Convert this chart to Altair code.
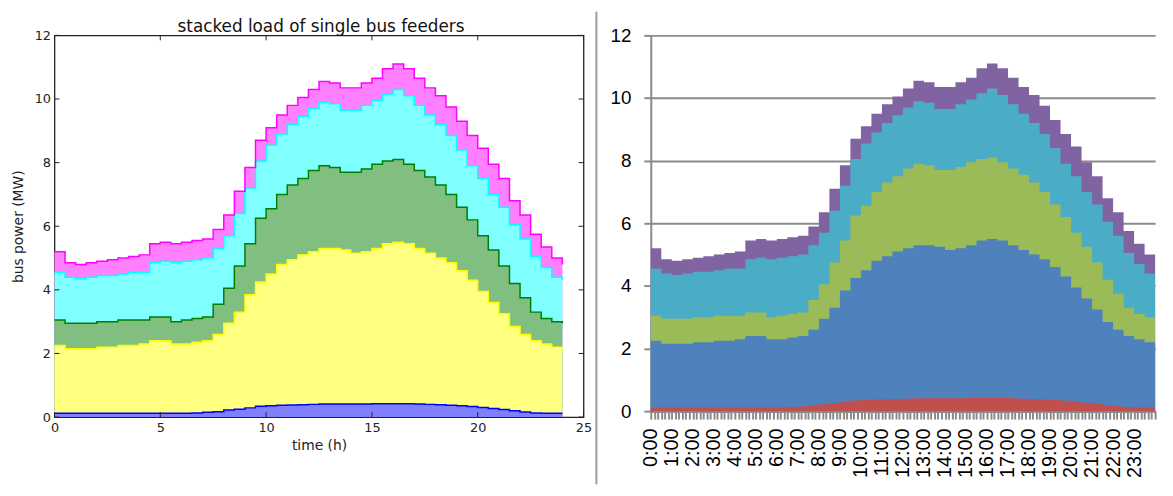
import altair as alt
import pandas as pd

# time stamps (hours), half-hour resolution
hours = [0.0, 0.5, 1.0, 1.5, 2.0, 2.5, 3.0, 3.5, 4.0, 4.5,
         5.0, 5.5, 6.0, 6.5, 7.0, 7.5, 8.0, 8.5, 9.0, 9.5,
         10.0, 10.5, 11.0, 11.5, 12.0, 12.5, 13.0, 13.5, 14.0, 14.5,
         15.0, 15.5, 16.0, 16.5, 17.0, 17.5, 18.0, 18.5, 19.0, 19.5,
         20.0, 20.5, 21.0, 21.5, 22.0, 22.5, 23.0, 23.5, 24.0]

# cumulative (stacked) top of each feeder layer, MW
top_feeder1 = [0.12, 0.12, 0.12, 0.12, 0.12, 0.12, 0.12, 0.12, 0.12, 0.12,
               0.12, 0.12, 0.12, 0.13, 0.15, 0.17, 0.22, 0.25, 0.29, 0.34,
               0.36, 0.37, 0.38, 0.39, 0.40, 0.41, 0.41, 0.41, 0.41, 0.41,
               0.42, 0.42, 0.42, 0.42, 0.41, 0.40, 0.39, 0.37, 0.36, 0.33,
               0.30, 0.27, 0.24, 0.20, 0.16, 0.13, 0.12, 0.12, 0.12]
top_feeder2 = [2.25, 2.15, 2.15, 2.15, 2.2, 2.2, 2.25, 2.25, 2.3, 2.4,
               2.4, 2.3, 2.3, 2.35, 2.4, 2.6, 2.95, 3.3, 3.85, 4.25,
               4.5, 4.8, 4.95, 5.1, 5.2, 5.3, 5.3, 5.25, 5.15, 5.2,
               5.3, 5.45, 5.5, 5.45, 5.3, 5.15, 5.0, 4.85, 4.6, 4.3,
               3.95, 3.6, 3.25, 2.85, 2.6, 2.4, 2.3, 2.2, 2.15]
top_feeder3 = [3.05, 2.95, 2.95, 2.95, 3.0, 3.0, 3.05, 3.05, 3.05, 3.15,
               3.15, 3.0, 3.05, 3.1, 3.15, 3.55, 4.05, 4.75, 5.45, 6.25,
               6.55, 7.0, 7.3, 7.5, 7.75, 7.9, 7.85, 7.7, 7.7, 7.8,
               7.95, 8.05, 8.1, 7.95, 7.75, 7.55, 7.3, 7.0, 6.6, 6.2,
               5.7, 5.25, 4.75, 4.2, 3.75, 3.3, 3.1, 3.0, 2.95]
top_feeder4 = [4.55, 4.4, 4.35, 4.4, 4.45, 4.45, 4.5, 4.55, 4.55, 4.85,
               4.9, 4.85, 4.9, 4.95, 5.0, 5.3, 5.7, 6.4, 7.2, 8.05,
               8.55, 8.9, 9.2, 9.45, 9.7, 9.9, 9.85, 9.65, 9.65, 9.8,
               9.95, 10.15, 10.3, 10.1, 9.8, 9.5, 9.2, 8.85, 8.4, 7.9,
               7.5, 7.0, 6.6, 6.05, 5.6, 5.05, 4.7, 4.4, 4.3]
top_feeder5 = [5.2, 4.85, 4.8, 4.85, 4.9, 4.95, 5.0, 5.05, 5.1, 5.45,
               5.5, 5.45, 5.5, 5.55, 5.6, 5.9, 6.35, 7.1, 7.85, 8.7,
               9.1, 9.5, 9.8, 10.05, 10.3, 10.55, 10.5, 10.35, 10.35, 10.5,
               10.65, 10.95, 11.1, 10.95, 10.65, 10.35, 10.1, 9.75, 9.3, 8.85,
               8.45, 7.95, 7.5, 6.8, 6.35, 5.75, 5.35, 5.0, 4.8]

series = ["f1", "f2", "f3", "f4", "f5"]
df = pd.DataFrame({"t": hours, "f1": top_feeder1, "f2": top_feeder2,
                   "f3": top_feeder3, "f4": top_feeder4, "f5": top_feeder5})

left_title = "stacked load of single bus feeders"
left_fill = ["#8080ff", "#ffff80", "#80bf80", "#80ffff", "#ff80ff"]
left_line = ["#0000ff", "#ffff00", "#007f00", "#00ffff", "#ff00ff"]
right_fill = ["#c0504d", "#4f81bd", "#9bbb59", "#4bacc6", "#8064a2"]

left_xticks = [0, 5, 10, 15, 20, 25]
left_yticks = [0, 2, 4, 6, 8, 10, 12]
right_yticks = [0, 2, 4, 6, 8, 10, 12]
right_xticks = [round(i / 6, 4) for i in range(145)]

LW, LH = 535, 386
RW, RH = 510, 380
DJ = "DejaVu Sans"
LS = "Liberation Sans"

# ---------------- left panel (matplotlib style) ----------------
lx_axis = alt.Axis(values=left_xticks, labelFont=DJ, labelFontSize=13, labelColor="#222",
                   labelPadding=5, labelFlush=False, ticks=False, tickSize=0, domain=False,
                   grid=False, titleFont=DJ, titleFontSize=14, titleFontWeight="normal",
                   titleColor="#222", titlePadding=4)
ly_axis = alt.Axis(values=left_yticks, labelFont=DJ, labelFontSize=13, labelColor="#222",
                   labelPadding=4, ticks=False, tickSize=0, domain=False, grid=False,
                   titleFont=DJ, titleFontSize=14, titleFontWeight="normal",
                   titleColor="#222", titlePadding=9)
lxs = alt.Scale(domain=[0, 25], nice=False, zero=False)
lys = alt.Scale(domain=[0, 12], nice=False)

def LX(f):
    return alt.X(f, type="quantitative", scale=lxs, axis=lx_axis, title="time (h)")

def LY(f):
    return alt.Y(f, type="quantitative", scale=lys, axis=ly_axis, title="bus power (MW)")

base = alt.Chart(df)
left_layers = []
for s, c in reversed(list(zip(series, left_fill))):
    left_layers.append(base.mark_area(color=c, interpolate="step-after").encode(
        x=LX("t"), y=LY(s), y2=alt.datum(0)))
for s, c in zip(series, left_line):
    left_layers.append(base.mark_line(color=c, strokeWidth=1.5, interpolate="step-after").encode(
        x=LX("t"), y=LY(s)))

xt = alt.Chart(pd.DataFrame({"v": left_xticks}))
yt = alt.Chart(pd.DataFrame({"v": left_yticks}))
tick_style = dict(color="#222", strokeWidth=1)
left_layers += [
    xt.mark_rule(**tick_style).encode(x=LX("v"), y=alt.value(LH), y2=alt.value(LH - 5)),
    xt.mark_rule(**tick_style).encode(x=LX("v"), y=alt.value(0), y2=alt.value(5)),
    yt.mark_rule(**tick_style).encode(y=LY("v"), x=alt.value(0), x2=alt.value(5)),
    yt.mark_rule(**tick_style).encode(y=LY("v"), x=alt.value(LW), x2=alt.value(LW - 5)),
]

# chart title as a text mark above the plot frame
title_mark = alt.Chart(pd.DataFrame({"title": [left_title]})).mark_text(
    font=DJ, fontSize=17, color="#111", align="center", baseline="alphabetic"
).encode(text="title:N", x=alt.value(LW / 2 + 2), y=alt.value(-3))
left_layers.append(title_mark)

left = alt.layer(*left_layers).properties(
    width=LW, height=LH,
    view=alt.ViewBackground(stroke="#222", strokeWidth=1.3),
)

# ---------------- right panel (Excel style) ----------------
rx_axis = alt.Axis(values=right_xticks,
                   labelExpr="(datum.value % 1 == 0 && datum.value < 24) ? (datum.value + ':00') : ''",
                   labelAngle=270, labelFont=LS, labelFontSize=20, labelColor="#000",
                   labelPadding=9, labelOverlap=False, labelFlush=False,
                   tickSize=8, tickWidth=2, tickColor="#8a8a8a",
                   domainColor="#8a8a8a", domainWidth=2, grid=False, title=None)
ry_axis = alt.Axis(values=right_yticks, labelFont=LS, labelFontSize=19, labelColor="#000",
                   labelPadding=13, tickSize=7, tickWidth=2, tickColor="#8a8a8a",
                   domainColor="#8a8a8a", domainWidth=2, grid=True, gridColor="#8a8a8a",
                   gridWidth=2, title=None)
rxs = alt.Scale(domain=[0, 24], nice=False, zero=False)
rys = alt.Scale(domain=[0, 12], nice=False)

right_layers = []
for s, c in reversed(list(zip(series, right_fill))):
    right_layers.append(base.mark_area(color=c, interpolate="step-after").encode(
        x=alt.X("t:Q", scale=rxs, axis=rx_axis),
        y=alt.Y(s, type="quantitative", scale=rys, axis=ry_axis),
        y2=alt.datum(0)))

separator = alt.Chart(pd.DataFrame({"a": [0]})).mark_rule(color="#9a9a9a", strokeWidth=2).encode(
    x=alt.value(-55), y=alt.value(-24), y2=alt.value(454))
right_layers.append(separator)

right = alt.layer(*right_layers).properties(width=RW, height=RH)

chart = alt.hconcat(left, right, spacing=68, bounds="flush").properties(
    padding={"left": 2, "top": 0, "right": 0, "bottom": 0},
    background="white",
).configure_view(strokeWidth=0)

chart.save("out.html", embed_options={"renderer": "svg", "actions": False})
